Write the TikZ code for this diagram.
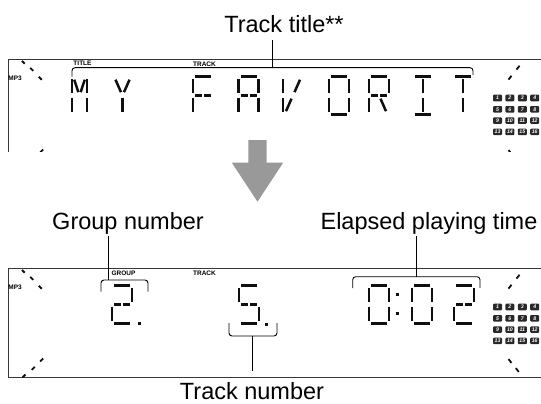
\documentclass[tikz,border=0pt]{standalone}
\usepackage{fontspec}
\setmainfont{Liberation Sans}
\setsansfont{Liberation Sans}
\usetikzlibrary{calc,positioning}
\definecolor{lcdink}{RGB}{15,15,15}
\definecolor{framegray}{RGB}{55,55,55}
\definecolor{arrowgray}{RGB}{153,153,153}
\definecolor{keyfill}{RGB}{40,40,40}

% segments of one character cell, 20 wide and 38 high
\def\lcdsegtop{(2,0) -- (18,0)}
\def\lcdsegur{(20,2.5) -- (20,16.5)}
\def\lcdseglr{(20,21) -- (20,35.5)}
\def\lcdsegbot{(2,37.6) -- (18,37.6)}
\def\lcdsegll{(0,21) -- (0,35.5)}
\def\lcdsegul{(0,2.5) -- (0,16.5)}
\def\lcdsegml{(2,18.8) -- (9,18.8)}
\def\lcdsegmr{(11,18.8) -- (18,18.8)}
\def\lcdsegdul{(3,3) -- (8.5,15.5)}
\def\lcdsegdur{(17,3) -- (11.5,15.5)}
\def\lcdsegdll{(8.5,22) -- (3,34.5)}
\def\lcdsegdlr{(11.5,22) -- (17,34.5)}
\def\lcdsegcu{(10,2.5) -- (10,16.5)}
\def\lcdsegcl{(10,21) -- (10,35.5)}
\newcommand{\lcdchar}[4][1]{%
  \begin{scope}[shift={(#2,#3)}, xscale=#1]
    \foreach \s in {#4} {\draw[seg] \csname lcdseg\s\endcsname;}
  \end{scope}}

\begin{document}
\begin{tikzpicture}[x=1pt, y=-1pt,
  seg/.style={draw=lcdink, line width=2.5pt},
  panel/.style={draw=framegray, line width=0.9pt},
  bracket/.style={draw=black, line width=0.9pt, rounded corners=3pt},
  lead/.style={draw=black, line width=0.9pt},
  cornermark/.style={draw=lcdink, line width=1.8pt},
  callout/.style={font=\fontsize{23.5}{28}\selectfont, inner sep=2pt, text depth=5pt},
  tag/.style={font=\fontsize{6.5}{7}\selectfont\bfseries, inner sep=0pt},
  key/.style={fill=keyfill, rounded corners=1pt, minimum width=9pt,
    minimum height=6.6pt, inner sep=0pt, text=white,
    font=\fontsize{5.2}{5.5}\selectfont\bfseries\itshape}
]
\useasboundingbox (0,0) rectangle (541,404);
% the same display twice: before (cut off) and after
\foreach \p/\ptop/\pdepth in {a/59.3/92.5, b/268.3/111} {
  \begin{scope}[shift={(0,\ptop)}]
    \clip (0,-3) rectangle (541,\pdepth);
    \draw[panel] (541,0) -- (8,0) -- (8,109.4) -- (541,109.4);
    \node[tag, anchor=west] (mp3\p) at (8.3,19) {MP3};
    \node[tag] (track\p) at (204.5,4.5) {TRACK};
    \foreach \cx/\cy/\ux/\uy in {23.3/3/1.4/1.4, 31.7/10/1.5/1.5, 40.3/19/1.5/1.5,
        41.7/91.7/1.5/-1.5, 33.3/100/1.5/-1.5, 24/107.7/1.4/-1.4,
        518/8.4/1.5/-1.9, 510/18.4/1.5/-1.9, 510/92.7/1.5/1.9, 517.3/101.7/1.5/1.9}
      \draw[cornermark] (\cx-\ux,\cy-\uy) -- (\cx+\ux,\cy+\uy);
    \foreach \n in {1,...,16} {
      \pgfmathtruncatemacro\col{mod(\n-1,4)}
      \pgfmathtruncatemacro\row{div(\n-1,4)}
      \node[key] (key\p\n) at ({497.5+12.4*\col}, {38.7+11.3*\row}) {\n};
    }
  \end{scope}
}
% before: scrolling track title
\node[tag] (titletag) at (82.5,63.5) {TITLE};
\lcdchar[0.75]{72}{76.7}{ul,ll,ur,lr,dul,dur}
\lcdchar{112.5}{76.7}{dul,dur,cl}
\lcdchar{193}{76.7}{top,ul,ll,ml,mr}
\lcdchar{238.5}{76.7}{top,ul,ur,ll,lr,ml,mr}
\lcdchar{283}{76.7}{ul,ll,dur,dll}
\lcdchar{329}{76.7}{top,ur,lr,bot,ll,ul}
\lcdchar{369}{76.7}{top,ul,ur,ll,ml,mr,dlr}
\lcdchar{413}{76.7}{top,bot,cu,cl}
\lcdchar{453}{76.7}{top,cu,cl}
\node[callout, anchor=base] (tracktitle) at (284,32.8) {Track title**};
\coordinate (titlebrk) at (272.7,67.7);
\draw[bracket] (72,76.7) -- (72,67.7) -- (473,67.7) -- (473,75);
\draw[lead] (titlebrk |- tracktitle.south) -- (titlebrk);
% arrow
\fill[arrowgray] (248.3,140) -- (266.7,140) -- (266.7,162.5) -- (283.3,162.5)
  -- (257.5,201.7) -- (231.7,162.5) -- (248.3,162.5) -- cycle;
% after: group, track and time
\node[tag] (grouptag) at (123.5,273.5) {GROUP};
\lcdchar{112}{285.7}{top,ur,ml,mr,ll,bot}
\fill[lcdink] (137.5,321.8) rectangle (140.5,324.8);
\lcdchar{239}{285.7}{top,ul,ml,mr,lr,bot}
\fill[lcdink] (264.5,322.5) rectangle (267.5,325.5);
\lcdchar{369}{285.7}{top,ur,lr,bot,ll,ul}
\fill[lcdink] (395.5,292.5) rectangle (398.5,295.5);
\fill[lcdink] (395.5,311.5) rectangle (398.5,314.5);
\lcdchar{412}{285.7}{top,ur,lr,bot,ll,ul}
\lcdchar{454}{285.7}{top,ur,ml,mr,ll,bot}
\node[callout, anchor=base] (groupnum) at (128,229) {Group number};
\node[callout, anchor=base] (elapsed) at (429,229) {Elapsed playing time};
\node[callout, anchor=base, text depth=0pt, inner sep=1pt] (tracknum) at (252,399.5) {Track number};
\coordinate (groupbrk) at (108.3,280);
\coordinate (elapsedbrk) at (416.7,276.7);
\coordinate (tracknumbrk) at (252.7,336);
\draw[bracket] (101,291.7) -- (101,280) -- (148,280) -- (148,291.7);
\draw[bracket] (352.7,288) -- (352.7,276.7) -- (480,276.7) -- (480,288);
\draw[bracket] (229,323) -- (229,336) -- (277,336) -- (277,323);
\draw[lead] (groupbrk |- groupnum.south) -- (groupbrk);
\draw[lead] (elapsedbrk |- elapsed.south) -- (elapsedbrk);
\draw[lead] (tracknumbrk) -- ($(tracknum.north -| tracknumbrk)+(0,-10)$);
\end{tikzpicture}
\end{document}
